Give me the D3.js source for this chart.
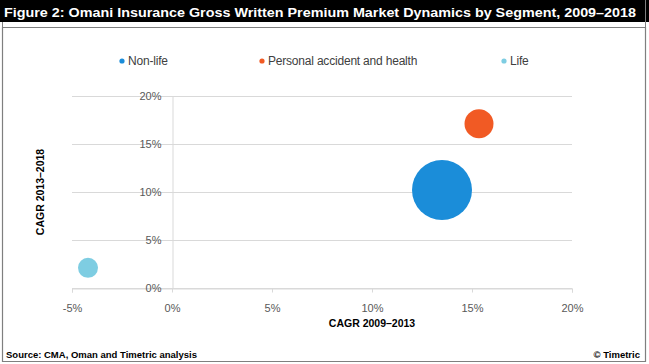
<!DOCTYPE html>
<html><head><meta charset="utf-8">
<script src="https://cdn.jsdelivr.net/npm/d3@7"></script>
<style>html,body{margin:0;padding:0;background:#fff;}svg{display:block;font-family:Arial,"Liberation Sans",sans-serif;}</style>
</head><body><svg id="c" width="649" height="364"></svg>
<script>
const segments = ["Non-life", "Personal accident and health", "Life"];
const cagr0913 = [13.5, 15.35, -4.2];
const cagr1318 = [10.2, 17.1, 2.1];
const bubbleSize = [900, 210, 100];
const colors = ["#1b8dd9", "#f15a24", "#7ecde2"];
const xTicks = [-5, 0, 5, 10, 15, 20];
const yTicks = [0, 5, 10, 15, 20];
const title = "Figure 2: Omani Insurance Gross Written Premium Market Dynamics by Segment, 2009–2018";
const xTitle = "CAGR 2009–2013";
const yTitle = "CAGR 2013–2018";
const source = "Source: CMA, Oman and Timetric analysis";
const credit = "© Timetric";

const svg = d3.select("#c");
// frame
svg.append("rect").attr("x",0).attr("y",0).attr("width",649).attr("height",22).attr("fill","#000");
svg.append("text").attr("x",4).attr("y",16.5).attr("fill","#fff").attr("font-weight","bold")
  .attr("font-size",13.4).attr("textLength",632).attr("lengthAdjust","spacingAndGlyphs").text(title);
svg.append("path").attr("d","M2.5,27.5H645.5V361.5H2.5Z").attr("fill","none").attr("stroke","#7f7f7f").attr("stroke-width",1.2);
svg.append("line").attr("x1",645.5).attr("x2",645.5).attr("y1",0).attr("y2",28).attr("stroke","#7f7f7f");
svg.append("line").attr("x1",2.5).attr("x2",2.5).attr("y1",22).attr("y2",28).attr("stroke","#7f7f7f");

const x = d3.scaleLinear().domain([-5,20]).range([72,572]);
const y = d3.scaleLinear().domain([0,20]).range([288,96]);
const r = d3.scaleSqrt().domain([0,900]).range([0,30]);

// gridlines
svg.append("g").selectAll("line").data(yTicks).join("line")
  .attr("x1",x(-5)).attr("x2",x(20)).attr("y1",d=>y(d)+0.5).attr("y2",d=>y(d)+0.5)
  .attr("stroke","#d9d9d9").attr("stroke-width",1);

// x axis at y=0
const xa = svg.append("g").attr("transform",`translate(0,${y(0)+0.5})`)
  .call(d3.axisBottom(x).tickValues(xTicks).tickFormat(d=>d+"%").tickSize(4).tickPadding(12));
xa.select(".domain").attr("stroke","#d9d9d9");
xa.selectAll(".tick line").attr("stroke","#d9d9d9");
xa.selectAll("text").attr("font-size",11).attr("fill","#595959").attr("font-family","Arial,'Liberation Sans',sans-serif");

// y axis at x=0
const ya = svg.append("g").attr("transform",`translate(${x(0)+0.5},0)`)
  .call(d3.axisLeft(y).tickValues(yTicks).tickFormat(d=>d+"%").tickSize(0).tickPadding(11));
ya.select(".domain").attr("stroke","#d9d9d9");
ya.selectAll("text").attr("font-size",11).attr("fill","#595959").attr("font-family","Arial,'Liberation Sans',sans-serif");

// bubbles
svg.append("g").selectAll("circle").data(segments).join("circle")
  .attr("cx",(d,i)=>x(cagr0913[i])).attr("cy",(d,i)=>y(cagr1318[i]))
  .attr("r",(d,i)=>r(bubbleSize[i])).attr("fill",(d,i)=>colors[i]);

// axis titles
svg.append("text").attr("x",372).attr("y",327).attr("text-anchor","middle").attr("font-weight","bold")
  .attr("font-size",10.5).attr("fill","#000").text(xTitle);
svg.append("text").attr("transform","translate(44,192) rotate(-90)").attr("text-anchor","middle").attr("font-weight","bold")
  .attr("font-size",10.5).attr("fill","#000").text(yTitle);

// legend
const legX = [122, 262, 504];
const lg = svg.append("g").selectAll("g").data(segments).join("g").attr("transform",(d,i)=>`translate(${legX[i]},61)`);
lg.append("circle").attr("r",2.6).attr("fill",(d,i)=>colors[i]);
lg.append("text").attr("x",6).attr("y",4.2).attr("font-size",12).attr("fill","#404040").attr("letter-spacing",-0.2).text(d=>d);

// footer
svg.append("text").attr("x",6).attr("y",358).attr("font-weight","bold").attr("font-size",9.5).attr("fill","#000").text(source);
svg.append("text").attr("x",640).attr("y",358).attr("text-anchor","end").attr("font-weight","bold").attr("font-size",9.5).attr("fill","#000").text(credit);
</script></body></html>
